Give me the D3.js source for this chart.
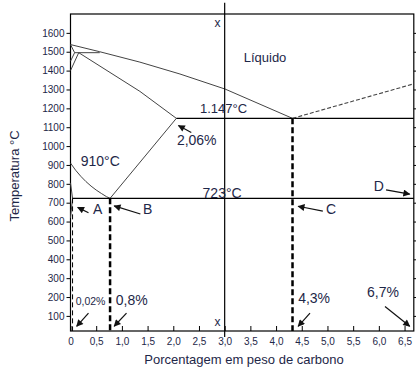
<!DOCTYPE html>
<html><head><meta charset="utf-8">
<script src="https://cdn.jsdelivr.net/npm/d3@7"></script>
<style>
html,body{margin:0;padding:0;background:#fff;}
svg{display:block;font-family:"Liberation Sans",Arial,sans-serif;}
</style></head><body>
<svg id="chart" width="416" height="372"></svg>
<script>
// ---- data (wt% C, °C) ----
const xTicks = [0,0.5,1,1.5,2,2.5,3,3.5,4,4.5,5,5.5,6,6.5];
const xTickLabels = ["0","0,5","1,0","1,5","2,0","2,5","3,0","3,5","4,0","4,5","5,0","5,5","6,0","6,5"];
const yTicks = [100,200,300,400,500,600,700,800,900,1000,1100,1200,1300,1400,1500,1600];
const liquidus = [[0,1538],[0.57,1500],[1.35,1445],[2.13,1382],[3.01,1302],[4.32,1147]];
const deltaSolidus = [[0,1538],[0.08,1495]];
const peritectic = [[0.08,1495],[0.57,1495]];
const deltaBoundary = [[0.08,1495],[0,1450]];
const gammaBoundary = [[0,1400],[0.16,1495]];
const gammaSolidus = [[0.16,1495],[1.35,1290],[2.06,1147]];
const acm = [[2.06,1147],[0.77,723]];
const a3 = [[0,910],[0.1,872],[0.2,840],[0.3,812],[0.4,788],[0.5,767],[0.6,749],[0.7,732],[0.77,723]];
const alphaBoundary = [[0,805],[0.04,723]];
const alphaSolvus = [[0.04,723],[0,620]];
const eutecticLine = [[2.06,1147],[6.68,1147]];
const eutectoidLine = [[0.04,723],[6.68,723]];
const cementiteLiquidus = [[4.32,1147],[6.68,1330]];
const thinDashed = [[0.04,723],[0.04,20]];
const thickDashed = [[[0.77,723],[0.77,20]],[[4.32,1147],[4.32,20]]];
const centerLine = [[3.0,1760],[3.0,-12]];
// annotations: text, x, y (data coords)
const labels = [
  {t:"Líquido", x:3.37, y:1445, s:13},
  {t:"1.147°C", x:2.52, y:1175, s:13},
  {t:"2,06%", x:2.07, y:1004, s:14},
  {t:"910°C", x:0.2, y:892, s:14},
  {t:"723°C", x:2.57, y:723, s:14},
  {t:"A", x:0.44, y:640, s:14},
  {t:"B", x:1.41, y:640, s:14},
  {t:"C", x:4.97, y:640, s:14},
  {t:"D", x:5.9, y:764, s:14},
  {t:"0,02%", x:0.1, y:160, s:10.5},
  {t:"0,8%", x:0.88, y:160, s:14},
  {t:"4,3%", x:4.43, y:170, s:14},
  {t:"6,7%", x:5.77, y:200, s:14},
  {t:"x", x:2.8, y:1631, s:12},
  {t:"x", x:2.8, y:44, s:12}
];
// arrows: from [x,T] to [x,T]
const arrows = [
  [[2.35,1147-75],[2.1,1147-38]],
  [[0.35,647],[0.14,675]],
  [[1.36,640],[0.85,683]],
  [[4.91,655],[4.43,681]],
  [[6.14,768],[6.6,745]],
  [[0.35,115],[0.12,45]],
  [[1.09,115],[0.85,45]],
  [[4.66,115],[4.43,45]],
  [[6.12,150],[6.6,45]]
];

const svg = d3.select("#chart");
const x = d3.scaleLinear().domain([0,6.68]).range([70.5,413.8]);
const y = d3.scaleLinear().domain([20,1700]).range([331,14]);
const line = d3.line().x(d=>x(d[0])).y(d=>y(d[1]));
const txt = "#1e2748";

svg.append("defs").append("marker").attr("id","ah")
  .attr("viewBox","0 0 10 10").attr("refX",9).attr("refY",5)
  .attr("markerWidth",9).attr("markerHeight",7).attr("markerUnits","userSpaceOnUse")
  .attr("orient","auto")
  .append("path").attr("d","M0,0L10,5L0,10z").attr("fill","#111");

// frame
svg.append("rect").attr("x",x(0)).attr("y",y(1700)).attr("width",x(6.68)-x(0)).attr("height",y(20)-y(1700))
  .attr("fill","none").attr("stroke","#000").attr("stroke-width",1.2);

// axes
const gl = svg.append("g").attr("transform",`translate(${x(0)},0)`)
  .call(d3.axisLeft(y).tickValues(yTicks).tickSize(4).tickPadding(2).tickFormat(d3.format("d")));
const gr = svg.append("g").attr("transform",`translate(${x(6.68)},0)`)
  .call(d3.axisLeft(y).tickValues(yTicks).tickSize(-4).tickFormat(""));
const gb = svg.append("g").attr("transform",`translate(0,${y(20)})`)
  .call(d3.axisBottom(x).tickValues(xTicks).tickSize(-5).tickPadding(7).tickFormat((d,i)=>xTickLabels[i]));
[gl,gr,gb].forEach(g=>{
  g.select(".domain").remove();
  g.selectAll(".tick line").attr("stroke","#000");
  g.selectAll("text").attr("fill",txt).attr("font-size",10).attr("font-family","Liberation Sans, Arial, sans-serif");
});

// phase lines
const solid = [liquidus,deltaSolidus,peritectic,deltaBoundary,gammaBoundary,gammaSolidus,acm,a3,alphaBoundary,alphaSolvus];
solid.forEach(p=>svg.append("path").attr("d",line(p)).attr("fill","none").attr("stroke","#444").attr("stroke-width",1));
[eutecticLine,eutectoidLine].forEach(p=>svg.append("path").attr("d",line(p)).attr("fill","none").attr("stroke","#000").attr("stroke-width",1.2));
svg.append("path").attr("d",line(cementiteLiquidus)).attr("fill","none").attr("stroke","#444").attr("stroke-width",1.1).attr("stroke-dasharray","4,2");
svg.append("path").attr("d",line(thinDashed)).attr("fill","none").attr("stroke","#000").attr("stroke-width",1).attr("stroke-dasharray","5,3");
thickDashed.forEach(p=>svg.append("path").attr("d",line(p)).attr("fill","none").attr("stroke","#000").attr("stroke-width",2.5).attr("stroke-dasharray","6,3"));
svg.append("path").attr("d",line(centerLine)).attr("fill","none").attr("stroke","#000").attr("stroke-width",1.2);

// labels
labels.forEach(l=>svg.append("text").attr("x",x(l.x)).attr("y",y(l.y)).attr("font-size",l.s).attr("fill",txt).text(l.t));

// arrows
arrows.forEach(a=>svg.append("path").attr("d",line(a)).attr("stroke","#111").attr("stroke-width",1.2).attr("fill","none").attr("marker-end","url(#ah)"));

// axis titles
svg.append("text").attr("x",244).attr("y",364).attr("text-anchor","middle").attr("font-size",13).attr("fill",txt).text("Porcentagem em peso de carbono");
svg.append("text").attr("transform","translate(19,176) rotate(-90)").attr("text-anchor","middle").attr("font-size",13).attr("fill",txt).text("Temperatura °C");
</script>
</body></html>
